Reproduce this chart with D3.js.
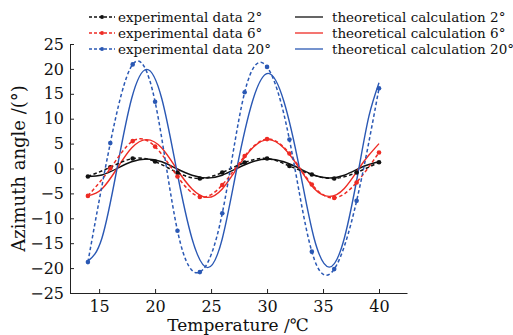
<!DOCTYPE html>
<html>
<head>
<meta charset="utf-8">
<script src="https://cdn.jsdelivr.net/npm/d3@7"></script>
<style>
    html, body { margin: 0; padding: 0; background: #fff; }
    svg { display: block; }
    text { font-family: 'DejaVu Serif', 'Liberation Serif', serif; fill: #111; }
</style>
</head>
<body>
<svg id="chart"></svg>
<script>
// Measured temperatures (degC) for the experimental series
const expTemps = [14, 16, 18, 20, 22, 24, 26, 28, 30, 32, 34, 36, 38, 40]
const exp2 = [-1.6, 0.25, 2.0, 1.4, -0.85, -2.0, -0.8, 1.2, 2.0, 0.5, -1.2, -2.0, -0.8, 1.25]
const exp6 = [-5.5, 0.0, 5.5, 4.4, -1.6, -5.7, -3.3, 2.5, 5.9, 3.0, -3.2, -5.9, -2.8, 3.2]
const exp20 = [-18.8, 5.1, 20.9, 13.4, -12.5, -20.8, -9.0, 15.3, 20.4, 5.8, -16.7, -20.2, -6.5, 16.1]

// Theoretical curves at these temperatures
const theoTemps = [14, 15.25, 16.6, 17.9, 19.25, 20.6, 21.9, 23.3, 24.7, 26.0, 27.3,
    28.7, 30.1, 31.5, 32.9, 34.2, 35.55, 36.9, 38.2, 39.1, 40]
const theo2 = [-1.6, -1.3, 0, 1.35, 1.9, 1.35, 0, -1.35, -1.9, -1.35, 0,
    1.35, 1.9, 1.35, 0, -1.35, -1.9, -1.35, 0, 0.8, 1.4]
const theo6 = [-5.5, -4.1, 0, 4.1, 5.8, 4.1, 0, -4.1, -5.8, -4.1, 0,
    4.1, 5.8, 4.1, 0, -4.0, -5.6, -4.0, 0, 2.7, 5.0]
const theo20 = [-18.6, -14.0, 0, 14.0, 19.9, 14.0, 0, -14.1, -19.9, -14.1, 0,
    13.5, 19.1, 13.5, 0, -14.0, -19.8, -14.0, 0, 10.5, 17.2]

const xTicks = [15, 20, 25, 30, 35, 40]
const yTicks = [-25, -20, -15, -10, -5, 0, 5, 10, 15, 20, 25]

const expLabels = ['experimental data 2°', 'experimental data 6°', 'experimental data 20°']
const theoLabels = ['theoretical calculation 2°', 'theoretical calculation 6°', 'theoretical calculation 20°']
const colors = ['#111111', '#ee2b24', '#2a58b4']

const W = 513, H = 335

const svg = d3.select('#chart').attr('width', W).attr('height', H)

const x = d3.scaleLinear().domain([12.4, 42.5]).range([70, 407])
const y = d3.scaleLinear().domain([-25, 25]).range([293, 44])

const line = d3.line()
    .x(d => x(d[0]))
    .y(d => y(d[1]))
    .curve(d3.curveNatural)

const expSeries = [exp2, exp6, exp20].map(vals => expTemps.map((t, i) => [t, vals[i]]))
const theoSeries = [theo2, theo6, theo20].map(vals => theoTemps.map((t, i) => [t, vals[i]]))

// axes (ticks point inward)
svg.append('g')
    .attr('transform', `translate(0, ${y(-25)})`)
    .call(d3.axisBottom(x).tickValues(xTicks).tickSize(-4).tickSizeOuter(0).tickPadding(5))
    .call(g => g.select('.domain').attr('stroke', '#222'))
    .call(g => g.selectAll('.tick line').attr('stroke', '#222'))
    .call(g => g.selectAll('.tick text')
        .attr('font-family', 'DejaVu Serif').attr('font-size', 16).attr('fill', '#111')
        .attr('dy', '0.85em'))

svg.append('g')
    .attr('transform', `translate(${x(12.4)}, 0)`)
    .call(d3.axisLeft(y).tickValues(yTicks).tickSize(-4).tickSizeOuter(0).tickPadding(6))
    .call(g => g.select('.domain').attr('stroke', '#222'))
    .call(g => g.selectAll('.tick line').attr('stroke', '#222'))
    .call(g => g.selectAll('.tick text')
        .attr('font-family', 'DejaVu Serif').attr('font-size', 16).attr('fill', '#111'))

// theoretical curves
svg.append('g').selectAll('path')
    .data(theoSeries)
    .join('path')
    .attr('d', line)
    .attr('fill', 'none')
    .attr('stroke', (d, i) => colors[i])
    .attr('stroke-width', 1.4)

// experimental curves + markers
const expG = svg.append('g').selectAll('g')
    .data(expSeries)
    .join('g')

expG.append('path')
    .attr('d', line)
    .attr('fill', 'none')
    .attr('stroke', (d, i) => colors[i])
    .attr('stroke-width', 1.5)
    .attr('stroke-dasharray', '3.5,2.5')

expG.each(function (series, i) {
    d3.select(this).selectAll('circle')
        .data(series)
        .join('circle')
        .attr('cx', d => x(d[0]))
        .attr('cy', d => y(d[1]))
        .attr('r', 2.3)
        .attr('fill', colors[i])
})

// axis titles
svg.append('text')
    .attr('transform', `translate(25, ${y(0)}) rotate(-90)`)
    .attr('text-anchor', 'middle')
    .attr('font-size', 18)
    .text('Azimuth angle /(°)')

svg.append('text')
    .attr('x', 238)
    .attr('y', 331)
    .attr('text-anchor', 'middle')
    .attr('font-size', 17)
    .text('Temperature /℃')

// legend
const legend = svg.append('g').attr('font-size', 13.5)
const rowY = [17, 33, 49]

expLabels.forEach((label, i) => {
    const g = legend.append('g').attr('transform', `translate(0, ${rowY[i]})`)
    g.append('line')
        .attr('x1', 89).attr('x2', 115)
        .attr('stroke', colors[i]).attr('stroke-width', 1.3)
        .attr('stroke-dasharray', '3,2')
    g.append('circle').attr('cx', 102).attr('r', 2).attr('fill', colors[i])
    g.append('text').attr('x', 118).attr('dy', '0.35em').text(label)
})

theoLabels.forEach((label, i) => {
    const g = legend.append('g').attr('transform', `translate(0, ${rowY[i]})`)
    g.append('line')
        .attr('x1', 295).attr('x2', 323)
        .attr('stroke', colors[i]).attr('stroke-width', 1.3)
    g.append('text').attr('x', 332).attr('dy', '0.35em').text(label)
})
</script>
</body>
</html>
